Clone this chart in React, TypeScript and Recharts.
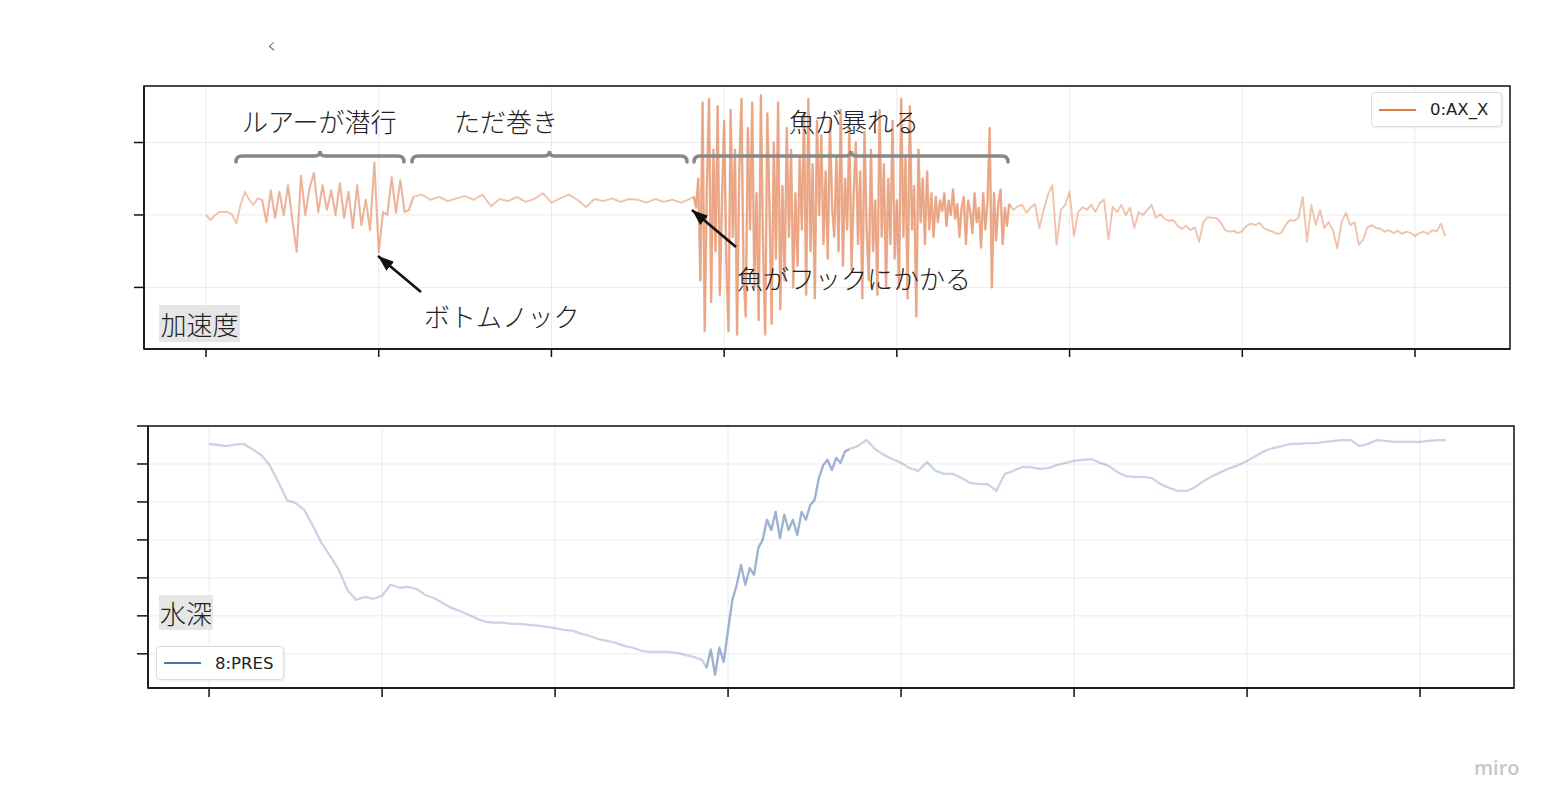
import React from 'react';
import { LineChart, Line, XAxis, YAxis, CartesianGrid, ReferenceArea } from 'recharts';

// time axis in seconds, a tick every 10 s (labels hidden in the original)
const timeTicks = [0, 10, 20, 30, 40, 50, 60, 70];
const accelTicks = [-1, 0, 1];
const depthTicks = [-6, -5, -4, -3, -2, -1, 0];

// 0:AX_X acceleration, read per phase of the run
const accelPre = [0, -0.07, -0.01, 0.04, 0.04, 0.04, 0.01, -0.12, 0.14, 0.32, 0.21, 0.14, 0.23];
const accelDive = [
  0.21, -0.1, 0.34, -0.04, 0.32, 0, 0.41, -0.07, -0.51, 0.54,
  0, 0.37, 0.58, 0.04, 0.41, 0.07, 0.34, 0, 0.44, -0.04,
  0.32, -0.18, 0.41, -0.14, 0.21, -0.21, 0.72, -0.52, 0.04, 0,
  0.52, 0.03, 0.48, 0.04, 0.07, 0.25,
];
const accelRetrieve = [
  0.28, 0.21, 0.25, 0.19, 0.23, 0.26, 0.21, 0.28, 0.12, 0.22,
  0.19, 0.25, 0.18, 0.22, 0.3, 0.17, 0.23, 0.28, 0.21, 0.11,
  0.22, 0.19, 0.23, 0.18, 0.22, 0.21, 0.17, 0.22, 0.18, 0.21,
  0.17, 0.22,
];
const accelFight = [
  0.25, 0.1, 0.5, -0.9, 1.55, -1.6, 0.4, 1.6, -1.2, 0.9,
  -0.5, 1.5, -1.1, 0.2, 1.3, -0.6, -1.6, 1.45, -0.3, 0.9,
  -1.65, 0.6, 1.6, -0.8, -1.4, 1.2, -0.2, 1.55, -1.0, 0.3,
  -1.45, 1.65, -0.4, -1.65, 1.4, 0.1, -1.5, 1.0, -0.6, 1.55,
  -1.3, 0.4, -0.9, 1.2, -0.3, 0.9, -1.0, 0.3, -0.7, 0.8,
  -0.2, 1.4, -1.1, 1.6, -0.5, 0.7, -1.15, 1.3, 0.0, 1.1,
  -0.4, 0.6, -0.6, 1.3, 0.1, -0.3, 0.8, -0.5, 1.45, -0.7,
  0.5, -0.2, 1.2, -0.75, 0.3, 1.0, -0.4, 0.6, -1.15, 1.15,
  -0.2, -0.9, 0.9, -0.5, 0.2, -1.1, 1.45, -0.3, 0.7, -1.0,
  0.5, -0.4, 1.3, -0.6, 0.2, -1.0, 1.6, -0.3, 0.8, -1.15,
  1.5, -0.2, 0.4, -1.4, 0.9, -0.1, 0.5, -0.4, 0.6, -0.2,
  0.3, -0.3, 0.25, -0.1, 0.2, 0.05, 0.3, -0.15, 0.2, 0.0,
  0.35, -0.05, 0.15, -0.3, 0.1, 0.25, -0.4, 0.2, 0.05, -0.25,
  0.3, -0.1, 0.1, -0.45, 0.3, -0.2, 0.2, 1.2, -1.0, 0.3,
  -0.35, 0.15, 0.35, -0.4, 0.1, -0.15, 0.15,
];
const accelTail = [
  0.07, 0.12, 0.14, 0.03, 0.1, 0.15, -0.18, 0.07, 0.28, 0.41,
  -0.41, 0.07, 0.14, 0.32, -0.29, 0.04, 0.11, 0.07, 0.14, 0.04,
  0.17, 0.21, -0.34, 0.11, 0.04, 0.14, 0, 0.1, -0.18, 0.04,
  0, 0.07, 0.14, -0.04, 0.01, -0.05, -0.08, -0.07, -0.15, -0.19,
  -0.15, -0.21, -0.17, -0.37, -0.1, -0.03, -0.04, -0.04, -0.1, -0.21,
  -0.23, -0.22, -0.25, -0.22, -0.15, -0.12, -0.14, -0.11, -0.18, -0.21,
  -0.23, -0.26, -0.25, -0.14, -0.07, -0.08, -0.04, 0.25, -0.37, 0.14,
  -0.14, 0.07, -0.18, -0.1, -0.21, -0.46, -0.1, 0.03, -0.14, -0.1,
  -0.41, -0.34, -0.17, -0.14, -0.18, -0.19, -0.23, -0.21, -0.25, -0.22,
  -0.26, -0.23, -0.25, -0.29, -0.25, -0.23, -0.26, -0.21, -0.23, -0.12,
  -0.29,
];

// 8:PRES water depth (m below surface)
const depthDescent = [
  -0.47, -0.5, -0.53, -0.49, -0.47, -0.61, -0.76, -1.03, -1.47, -1.95,
  -2.03, -2.21, -2.63, -3.08, -3.42, -3.79, -4.32, -4.58, -4.5, -4.55,
  -4.47, -4.18, -4.26, -4.24, -4.29, -4.45, -4.53, -4.66, -4.79, -4.87,
  -4.97, -5.08, -5.16, -5.18, -5.18, -5.21, -5.21, -5.24, -5.26, -5.29,
  -5.32, -5.37, -5.39, -5.47, -5.53, -5.61, -5.66, -5.71, -5.79, -5.84,
  -5.92, -5.95, -5.95, -5.95, -5.97, -6.03, -6.08, -6.16,
];
const depthAscent = [
  -6.37, -5.89, -6.55, -5.84, -6.21, -5.37, -4.58, -4.18, -3.66, -4.18,
  -3.74, -3.92, -3.21, -3.0, -2.47, -2.74, -2.26, -2.95, -2.34, -2.74,
  -2.47, -2.87, -2.26, -2.47, -2.08, -1.95, -1.37, -1.03, -0.89, -1.16,
  -0.84, -0.97, -0.68, -0.61,
];
const depthSurface = [
  -0.53, -0.37, -0.61, -0.76, -0.87, -0.97, -1.11, -1.18, -0.95, -1.18,
  -1.26, -1.26, -1.37, -1.5, -1.53, -1.53, -1.71, -1.26, -1.18, -1.08,
  -1.08, -1.13, -1.11, -1.03, -0.97, -0.92, -0.89, -0.87, -0.97, -1.05,
  -1.21, -1.32, -1.34, -1.34, -1.37, -1.53, -1.63, -1.71, -1.71, -1.61,
  -1.45, -1.32, -1.21, -1.11, -1.03, -0.92, -0.79, -0.66, -0.58, -0.53,
  -0.47, -0.47, -0.45, -0.45, -0.42, -0.39, -0.37, -0.37, -0.53, -0.47,
  -0.37, -0.39, -0.42, -0.42, -0.42, -0.42, -0.39, -0.37, -0.37,
];

type Segment = { start: number; step: number; values: number[] };

const buildRows = (segments: Segment[]) =>
  segments.flatMap((s) => s.values.map((v, i) => ({ t: +(s.start + i * s.step).toFixed(3), v })));

const preSeg = { start: 0, step: 0.25, values: accelPre };
const diveSeg = { start: 3.25, step: 0.25, values: accelDive };
const retrieveSeg = { start: 12.5, step: 0.5, values: accelRetrieve };
const fightSeg = { start: 28.25, step: 0.125, values: accelFight };
const tailSeg = { start: 46.75, step: 0.25, values: accelTail };

const accelRows = buildRows([preSeg, diveSeg, retrieveSeg, fightSeg, tailSeg]);
// busy stretches are drawn a second time so they read denser, like the overlapping raw samples
const diveRows = buildRows([diveSeg]);
const fightRows = buildRows([fightSeg]);

const ascentSeg = { start: 28.75, step: 0.25, values: depthAscent };
const depthRows = buildRows([
  { start: 0, step: 0.5, values: depthDescent },
  ascentSeg,
  { start: 37.5, step: 0.5, values: depthSurface },
]);
const ascentRows = buildRows([ascentSeg]);

const ORANGE = '#E07B48';
const BLUE = '#4C72B0';
const JP = '"Noto Sans CJK JP", "Noto Sans", sans-serif';
const LATIN = '"DejaVu Sans", sans-serif';

const X_TOP: [number, number] = [-3.59, 75.5];
const X_BOTTOM: [number, number] = [-3.53, 75.43];
const Y_ACC: [number, number] = [-1.85, 1.78];
const Y_DEPTH: [number, number] = [-6.9, 0];

const axisStroke = { stroke: '#111', strokeWidth: 1.5 };
const blank = () => '';

const Note = ({ x, y, children, size = 26 }: { x: number; y: number; children: React.ReactNode; size?: number }) => (
  <div
    style={{
      position: 'absolute', left: x, top: y, fontFamily: JP, fontSize: size, lineHeight: `${size}px`,
      color: '#222', fontWeight: 300, whiteSpace: 'nowrap',
    }}
  >
    {children}
  </div>
);

const PanelTag = ({ x, y, w, h, children }: { x: number; y: number; w: number; h: number; children: React.ReactNode }) => (
  <div
    style={{
      position: 'absolute', left: x, top: y, width: w, height: h, background: '#e6e6e6',
      fontFamily: JP, fontSize: 26, lineHeight: `${h}px`, color: '#222', fontWeight: 300,
      textAlign: 'center', whiteSpace: 'nowrap',
    }}
  >
    {children}
  </div>
);

const LegendBox = ({ x, y, w, h, color, label }: { x: number; y: number; w: number; h: number; color: string; label: string }) => (
  <div
    style={{
      position: 'absolute', left: x, top: y, width: w, height: h, boxSizing: 'border-box',
      background: 'rgba(255,255,255,0.9)', border: '1.5px solid #dcdcdc', borderRadius: 4,
      boxShadow: '1px 1px 2px rgba(0,0,0,0.08)', display: 'flex', alignItems: 'center',
    }}
  >
    <div style={{ marginLeft: 7, width: 37, height: 2, background: color }} />
    <div style={{ marginLeft: 14, fontFamily: LATIN, fontSize: 16.5, color: '#222' }}>{label}</div>
  </div>
);

const brace = (x1: number, x2: number, y: number) => {
  const m = (x1 + x2) / 2;
  return `M${x1},${y + 6} Q${x1},${y} ${x1 + 6},${y} L${m - 5},${y} Q${m},${y} ${m},${y - 5} Q${m},${y} ${m + 5},${y} L${x2 - 6},${y} Q${x2},${y} ${x2},${y + 6}`;
};

export default function App() {
  return (
    <div style={{ position: 'absolute', left: 0, top: 0, width: 1561, height: 810, background: '#fff', overflow: 'hidden' }}>
      {/* acceleration panel */}
      <div style={{ position: 'absolute', left: 0, top: 0 }}>
        <LineChart width={1561} height={400} data={accelRows} margin={{ top: 86, right: 51, bottom: 41, left: 134 }}>
          <CartesianGrid stroke="#ebebeb" strokeWidth={1} />
          <XAxis
            dataKey="t" type="number" domain={X_TOP} ticks={timeTicks} allowDataOverflow height={10}
            tickSize={8} tickFormatter={blank} axisLine={axisStroke} tickLine={axisStroke}
          />
          <YAxis
            type="number" domain={Y_ACC} ticks={accelTicks} allowDataOverflow width={10}
            tickSize={10} tickFormatter={blank} axisLine={axisStroke} tickLine={axisStroke}
          />
          <Line
            dataKey="v" type="linear" stroke={ORANGE} strokeOpacity={0.45} strokeWidth={1.9}
            dot={false} isAnimationActive={false} strokeLinejoin="round"
          />
          <Line
            data={diveRows} dataKey="v" type="linear" stroke={ORANGE} strokeOpacity={0.22} strokeWidth={2.2}
            dot={false} isAnimationActive={false} strokeLinejoin="round"
          />
          <Line
            data={fightRows} dataKey="v" type="linear" stroke={ORANGE} strokeOpacity={0.4} strokeWidth={2.6}
            dot={false} isAnimationActive={false} strokeLinejoin="round"
          />
          <ReferenceArea x1={X_TOP[0]} x2={X_TOP[1]} y1={Y_ACC[0]} y2={Y_ACC[1]} fill="none" stroke="#111" strokeWidth={1.5} />
        </LineChart>
      </div>

      {/* depth panel */}
      <div style={{ position: 'absolute', left: 0, top: 400 }}>
        <LineChart width={1561} height={350} data={depthRows} margin={{ top: 26, right: 47, bottom: 52, left: 137 }}>
          <CartesianGrid stroke="#ebebeb" strokeWidth={1} />
          <XAxis
            dataKey="t" type="number" domain={X_BOTTOM} ticks={timeTicks} allowDataOverflow height={10}
            tickSize={9} tickFormatter={blank} axisLine={axisStroke} tickLine={axisStroke}
          />
          <YAxis
            type="number" domain={Y_DEPTH} ticks={depthTicks} allowDataOverflow width={11}
            tickSize={11} tickFormatter={blank} axisLine={axisStroke} tickLine={axisStroke}
          />
          <Line
            dataKey="v" type="linear" stroke={BLUE} strokeOpacity={0.3} strokeWidth={2.3}
            dot={false} isAnimationActive={false} strokeLinejoin="round"
          />
          <Line
            data={ascentRows} dataKey="v" type="linear" stroke={BLUE} strokeOpacity={0.35} strokeWidth={2.3}
            dot={false} isAnimationActive={false} strokeLinejoin="round"
          />
          <ReferenceArea x1={X_BOTTOM[0]} x2={X_BOTTOM[1]} y1={Y_DEPTH[0]} y2={Y_DEPTH[1]} fill="none" stroke="#111" strokeWidth={1.5} />
        </LineChart>
      </div>

      {/* braces and arrows */}
      <svg width={1561} height={810} style={{ position: 'absolute', left: 0, top: 0, pointerEvents: 'none' }}>
        <defs>
          <marker id="head" markerWidth={18} markerHeight={14} refX={16} refY={6} orient="auto" markerUnits="userSpaceOnUse">
            <path d="M0,0 L16,6 L0,12 z" fill="#111" />
          </marker>
        </defs>
        {[[236, 404], [412, 687], [694, 1008]].map(([a, b]) => (
          <path key={a} d={brace(a, b, 156)} fill="none" stroke="#888" strokeWidth={3.5} strokeLinecap="round" />
        ))}
        <line x1={421} y1={292} x2={378} y2={256} stroke="#111" strokeWidth={2.6} markerEnd="url(#head)" />
        <line x1={736} y1={247} x2={692} y2={210} stroke="#111" strokeWidth={2.6} markerEnd="url(#head)" />
      </svg>

      <Note x={242} y={108}>ルアーが潜行</Note>
      <Note x={454} y={108}>ただ巻き</Note>
      <Note x={789} y={108}>魚が暴れる</Note>
      <Note x={424} y={303}>ボトムノック</Note>
      <Note x={737} y={265}>魚がフックにかかる</Note>

      <PanelTag x={159} y={305} w={81} h={37}>加速度</PanelTag>
      <PanelTag x={159} y={595} w={54} h={35}>水深</PanelTag>

      <LegendBox x={1371} y={92} w={131} h={35} color={ORANGE} label="0:AX_X" />
      <LegendBox x={156} y={646} w={128} h={34} color={BLUE} label="8:PRES" />

      <div style={{ position: 'absolute', left: 267, top: 38, fontFamily: JP, fontSize: 10, color: '#555' }}>く</div>
      <div style={{ position: 'absolute', left: 1474, top: 754, fontFamily: '"Open Sans", sans-serif', fontSize: 20, fontWeight: 600, color: '#c3c7d1' }}>
        miro
      </div>
    </div>
  );
}
